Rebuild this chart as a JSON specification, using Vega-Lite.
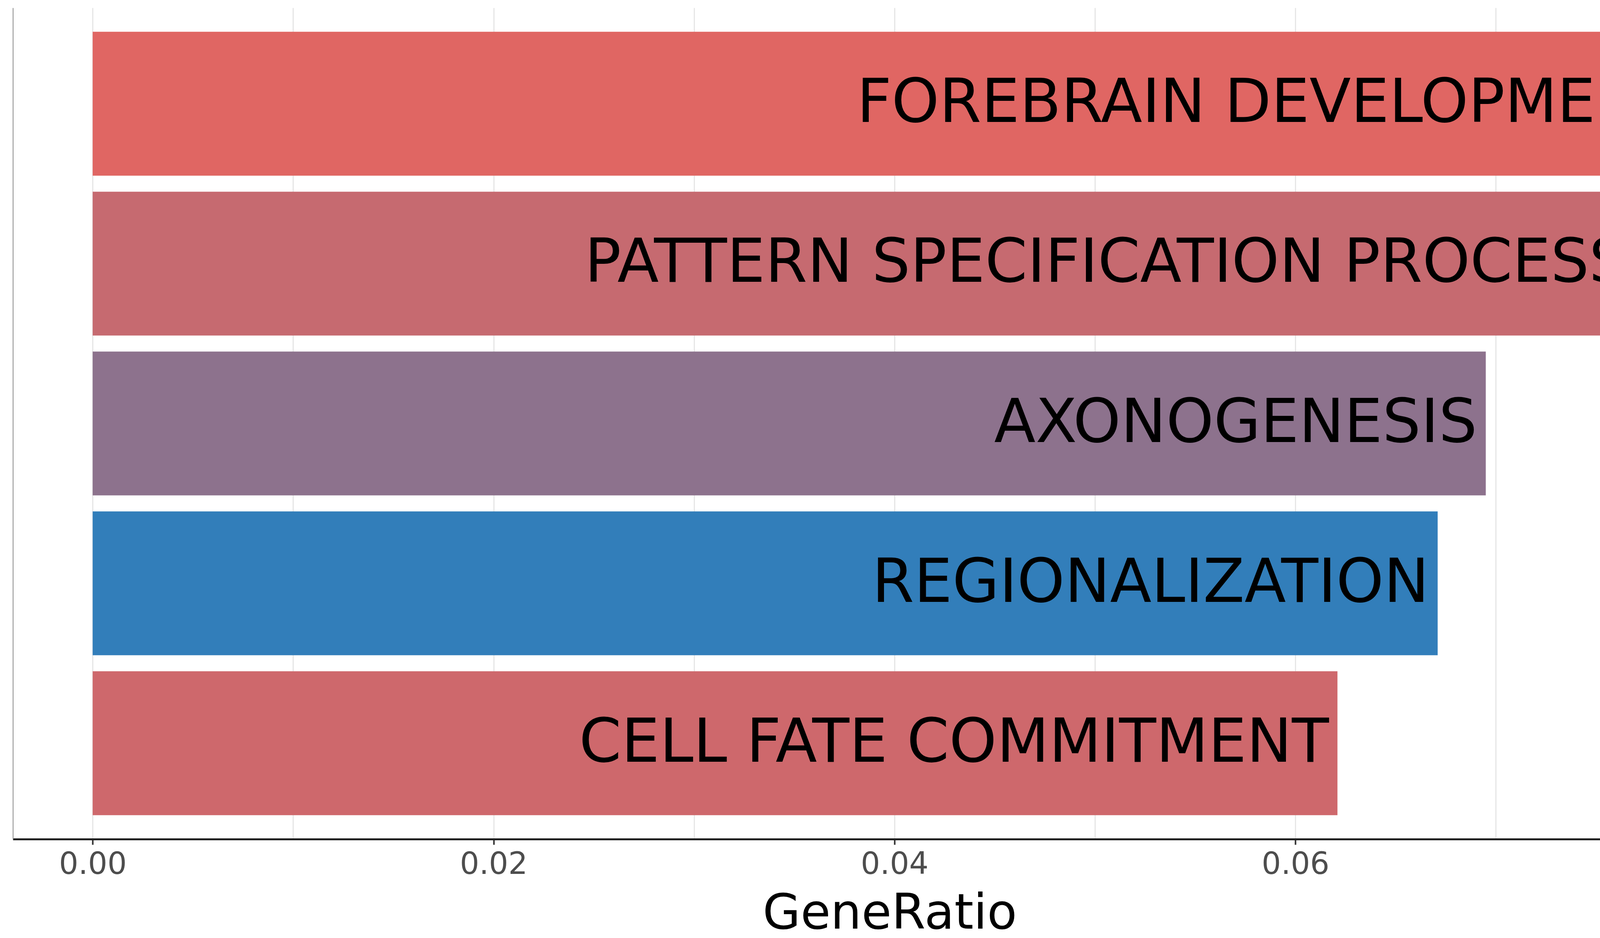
{
"$schema":"https://vega.github.io/schema/vega-lite/v6.json",
"autosize":{"type":"none"},
"padding":{"left":33,"top":20,"right":578,"bottom":253},
"width":4489,"height":2127,
"background":"white",
"config":{"font":"DejaVu Sans","view":{"stroke":null}},
"data":{"values":[
{"term":"FOREBRAIN DEVELOPMENT","ratio":0.0795,"p":0.0000002},
{"term":"PATTERN SPECIFICATION PROCESS","ratio":0.0770,"p":0.000016},
{"term":"AXONOGENESIS","ratio":0.0695,"p":0.000052},
{"term":"REGIONALIZATION","ratio":0.0671,"p":0.0001084},
{"term":"CELL FATE COMMITMENT","ratio":0.0621,"p":0.000011}
]},
"encoding":{
"y":{"field":"term","type":"nominal","sort":null,
"scale":{"paddingInner":0.1,"paddingOuter":0.15},
"axis":{"title":null,"labels":false,"ticks":false,"domainColor":"#888888","domainWidth":2,"gridColor":"#dddddd","gridWidth":4,"bandPosition":0.5}},
"x":{"field":"ratio","type":"quantitative",
"scale":{"domain":[-0.00398,0.0835],"nice":false,"zero":false},
"axis":{"values":[0,0.01,0.02,0.03,0.04,0.05,0.06,0.07,0.08],
"labelExpr":"(round(datum.value*100)%2==0)?format(datum.value,'.2f'):''",
"tickOpacity":{"condition":{"test":"round(datum.value*100)%2==0","value":1},"value":0},
"tickColor":"#333333","tickWidth":4,"tickSize":14,
"domainColor":"#222222","domainWidth":5,
"gridColor":"#e6e6e6","gridWidth":3,
"labelFontSize":78,"labelColor":"#4d4d4d","labelPadding":12,
"title":"GeneRatio","titleFontSize":125,"titleFontWeight":"normal","titleColor":"#000000","titlePadding":25}}
},
"layer":[
{"mark":{"type":"bar","x":{"expr":"scale('x',0)"}},
"encoding":{"color":{"field":"p","type":"quantitative","title":"p-value",
"scale":{"domain":[0.0000001,0.0001084],"range":["#e06663","#327eba"],"interpolate":"rgb"},
"legend":{"orient":"none","legendX":4559,"legendY":676,"direction":"vertical",
"gradientLength":427,"gradientThickness":120,"gradientStrokeWidth":0,
"values":[0.000025,0.00005,0.000075,0.0001],
"labelExpr":"replace(replace(format(datum.value,'.1e'),'e-5','e-05'),'e-4','e-04')",
"labelFontSize":62,"labelColor":"#000000","labelOffset":18,
"titleFontSize":110,"titleFontWeight":"normal","titleColor":"#000000","titlePadding":12}}}},
{"mark":{"type":"text","align":"right","baseline":"middle","dx":-22,"fontSize":155,"color":"#000000"},
"encoding":{"text":{"field":"term"}}}
]
}
